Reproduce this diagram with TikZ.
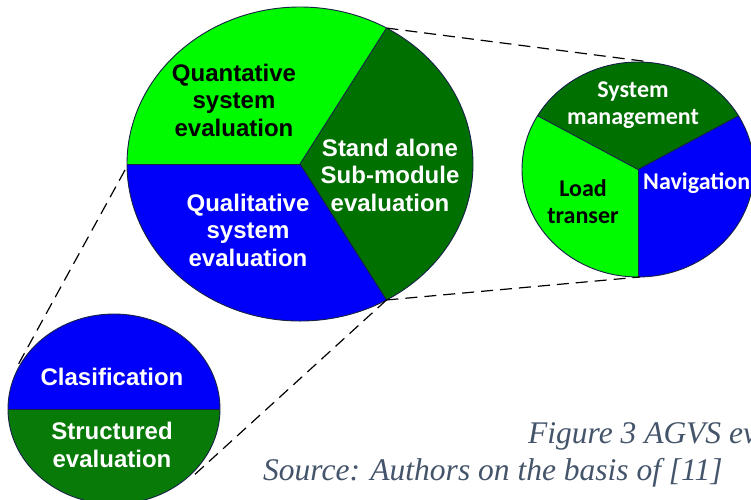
\documentclass[tikz,border=0pt]{standalone}
\usepackage{fontspec}
\newfontfamily\armfont{Liberation Sans}
\newfontfamily\calfont{Carlito}
\newfontfamily\capfont{Liberation Serif}
\definecolor{lgreen}{RGB}{0,250,0}
\definecolor{dgreen}{RGB}{0,112,0}
\definecolor{mgreen}{RGB}{8,122,8}
\definecolor{pblue}{RGB}{0,0,250}
\definecolor{rimcol}{RGB}{24,34,70}
\definecolor{capcol}{RGB}{68,84,106}
\begin{document}
\begin{tikzpicture}[x=1pt,y=-1pt,
  rim/.style={draw=rimcol, line width=0.9pt},
  zoomline/.style={draw=black, line width=1.2pt, dash pattern=on 12pt off 7pt},
  armlabel/.style={font=\armfont\bfseries\fontsize{24}{27.5}\selectfont, align=center, inner sep=0pt},
  callabel/.style={font=\calfont\bfseries\fontsize{24}{27}\selectfont, align=center, inner sep=0pt},
  caption/.style={font=\capfont\itshape\fontsize{31.5}{36}\selectfont, text=capcol, inner sep=0pt}]

\path[use as bounding box, clip] (0,0) rectangle (751,499);
\fill[white] (0,0) rectangle (751,499);

% ---- main pie (three evaluation kinds) ----
\begin{scope}[shift={(300,164)}]
  \begin{scope}
    \clip (0,0) ellipse [x radius=173, y radius=157];
    \fill[dgreen] (-180,-170) rectangle (180,170);
    \fill[lgreen] (0,0) -- (-60:346 and 314) -- (-120:346 and 314) -- (180:346 and 314) -- cycle;
    \fill[pblue] (0,0) -- (180:346 and 314) -- (120:346 and 314) -- (60:346 and 314) -- cycle;
  \end{scope}
  \draw[rim] (0,0) -- (-60:173 and 157);
  \draw[rim] (0,0) -- (180:173 and 157);
  \draw[rim] (0,0) -- (60:173 and 157);
  \draw[rim] (0,0) ellipse [x radius=173, y radius=157];
  \coordinate (bigT) at (-60:173 and 157);
  \coordinate (bigB) at (60:173 and 157);
\end{scope}
\coordinate (bigL) at (125,170);

% ---- sub-module pie ----
\begin{scope}[shift={(638,169.5)}]
  \begin{scope}
    \clip (0,0) ellipse [x radius=116, y radius=107.5];
    \fill[pblue] (-120,-110) rectangle (120,110);
    \fill[dgreen] (0,0) -- (-30:232 and 215) -- (-90:232 and 215) -- (-150:232 and 215) -- cycle;
    \fill[lgreen] (0,0) -- (-150:232 and 215) -- (180:232 and 215) -- (135:232 and 215) -- (90:232 and 215) -- cycle;
  \end{scope}
  \draw[rim] (0,0) -- (-30:116 and 107.5);
  \draw[rim] (0,0) -- (-150:116 and 107.5);
  \draw[rim] (0,0) -- (90:116 and 107.5);
  \draw[rim] (0,0) ellipse [x radius=116, y radius=107.5];
\end{scope}
\coordinate (rT) at (650,62);
\coordinate (rB) at (640,277);

% ---- qualitative split ----
\begin{scope}[shift={(114,409)}]
  \begin{scope}
    \clip (0,0) ellipse [x radius=106, y radius=95];
    \fill[pblue] (-110,-100) rectangle (110,0);
    \fill[mgreen] (-110,0) rectangle (110,100);
  \end{scope}
  \draw[rim] (-106,0) -- (106,0);
  \draw[rim] (0,0) ellipse [x radius=106, y radius=95];
\end{scope}
\coordinate (smL) at (18,365);
\coordinate (smR) at (192,477);

% ---- zoom guides ----
\draw[zoomline] (bigL) -- (smL);
\draw[zoomline] (bigB) -- (smR);
\draw[zoomline] (bigT) -- (rT);
\draw[zoomline] (bigB) -- (rB);

% ---- labels ----
\node[armlabel, text=black] (quant) at (234,100) {Quantative\\system\\evaluation};
\node[armlabel, text=white] (stand) at (390,175) {Stand alone\\Sub-module\\evaluation};
\node[armlabel, text=white] (qual) at (248,230) {Qualitative\\system\\evaluation};

\node[callabel, text=white] (sysm) at (633,105) {System\\management};
\node[callabel, text=black] (load) at (583,202) {Load\\transer};
\node[callabel, text=white, anchor=west] (nav) at (643,183) {Navigation};

\node[armlabel, text=white] (clas) at (112,377) {Clasification};
\node[armlabel, text=white] (struct) at (112,445) {Structured\\evaluation};

% ---- caption ----
\node[caption, anchor=base west] (fig) at (528,443) {Figure 3 AGVS ev};
\node[caption, anchor=base west] (src) at (263,480) {Source: Authors on the basis of [11]};
\end{tikzpicture}
\end{document}
